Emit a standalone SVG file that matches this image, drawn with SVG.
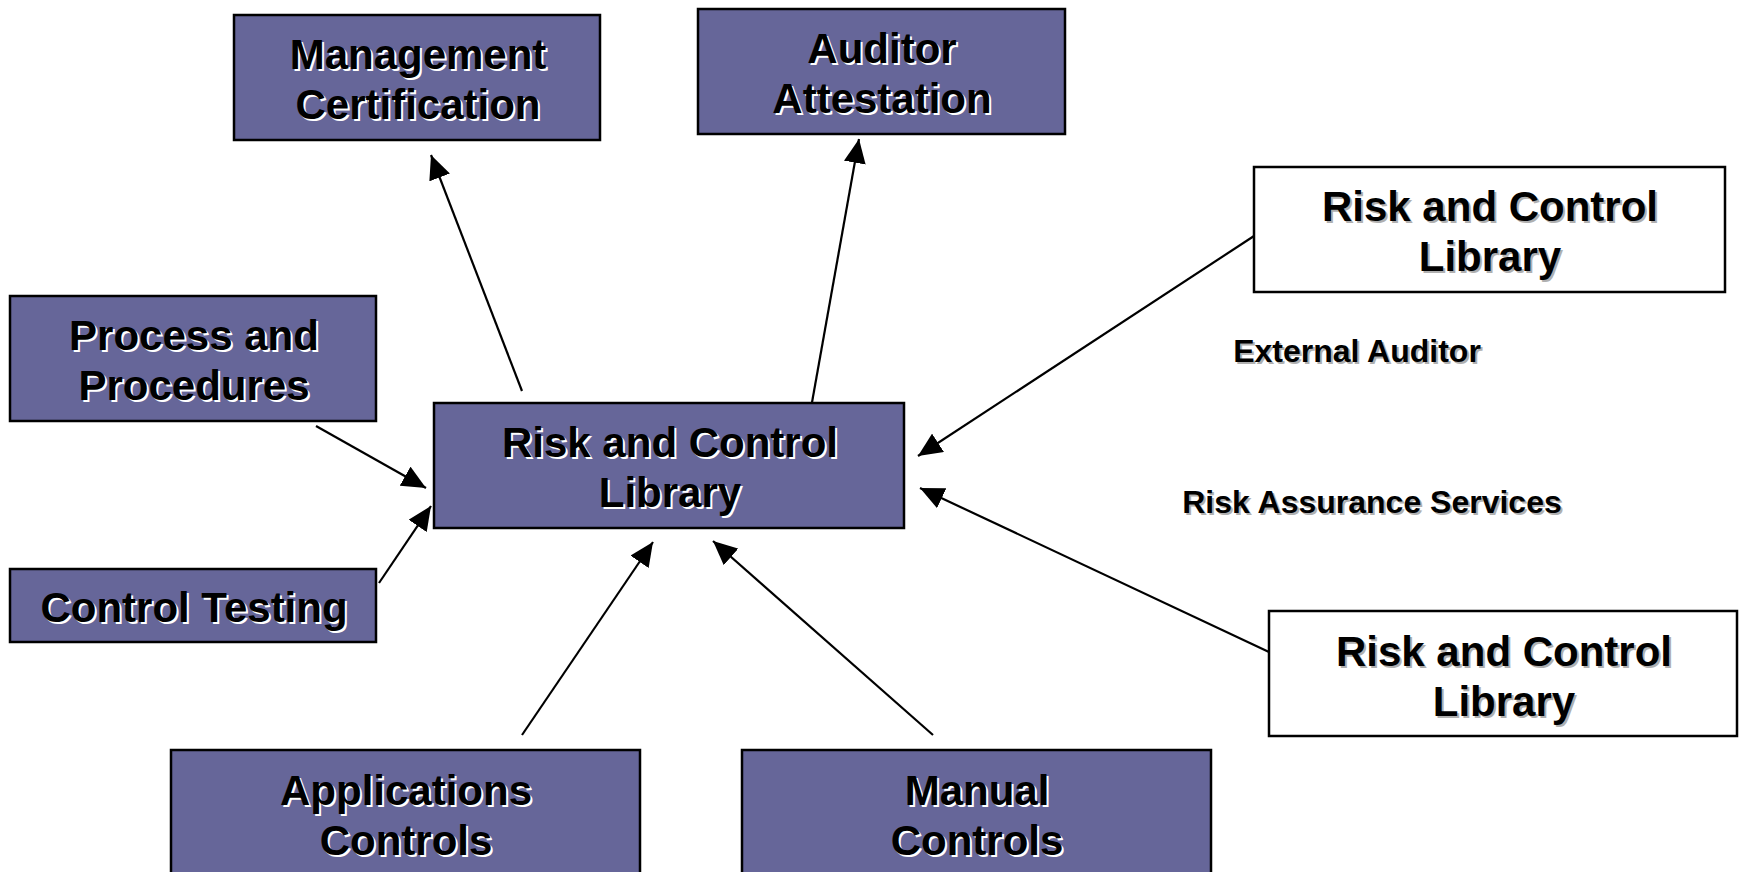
<svg xmlns="http://www.w3.org/2000/svg" width="1739" height="872" viewBox="0 0 1739 872">
<defs>
<style>
.box{fill:#666699;stroke:#000;stroke-width:2.5}
.wbox{fill:#fff;stroke:#000;stroke-width:2.5}
.t{font-family:"Liberation Sans",Arial,sans-serif;font-weight:bold;font-size:42px;text-anchor:middle}
.lab{font-family:"Liberation Sans",Arial,sans-serif;font-weight:bold;font-size:32px;text-anchor:middle}
.sh{fill:#fff}
.gsh{fill:#b0b0b0}
.fg{fill:#000}
.conn line{stroke:#000;stroke-width:2.2;marker-end:url(#ah)}
</style>
<marker id="ah" markerUnits="userSpaceOnUse" markerWidth="26" markerHeight="22" refX="24" refY="11" orient="auto">
<path d="M0,0 L24,11 L0,22 Z" fill="#000"/>
</marker>
</defs>
<rect width="1739" height="872" fill="#fff"/>
<g id="connectors" class="conn">
<line x1="522" y1="391" x2="431" y2="155"/>
<line x1="811" y1="408" x2="859" y2="139"/>
<line x1="316" y1="426" x2="426" y2="488"/>
<line x1="379" y1="583" x2="431" y2="506"/>
<line x1="522" y1="735" x2="653" y2="542"/>
<line x1="933" y1="735" x2="713" y2="541"/>
<line x1="1254" y1="236" x2="918" y2="456"/>
<line x1="1269" y1="652" x2="920" y2="488"/>
</g>
<g id="mgmt">
<rect class="box" x="234" y="15" width="366" height="125"/>
<text class="t sh" x="420" y="71">Management</text><text class="t fg" x="418" y="69">Management</text>
<text class="t sh" x="420" y="121">Certification</text><text class="t fg" x="418" y="119">Certification</text>
</g>
<g id="auditor">
<rect class="box" x="698" y="9" width="367" height="125"/>
<text class="t sh" x="884" y="65">Auditor</text><text class="t fg" x="882" y="63">Auditor</text>
<text class="t sh" x="884" y="115">Attestation</text><text class="t fg" x="882" y="113">Attestation</text>
</g>
<g id="process">
<rect class="box" x="10" y="296" width="366" height="125"/>
<text class="t sh" x="196" y="352">Process and</text><text class="t fg" x="194" y="350">Process and</text>
<text class="t sh" x="196" y="402">Procedures</text><text class="t fg" x="194" y="400">Procedures</text>
</g>
<g id="center">
<rect class="box" x="434" y="403" width="470" height="125"/>
<text class="t sh" x="672" y="459">Risk and Control</text><text class="t fg" x="670" y="457">Risk and Control</text>
<text class="t sh" x="672" y="509">Library</text><text class="t fg" x="670" y="507">Library</text>
</g>
<g id="testing">
<rect class="box" x="10" y="569" width="366" height="73"/>
<text class="t sh" x="196" y="624">Control Testing</text><text class="t fg" x="194" y="622">Control Testing</text>
</g>
<g id="apps">
<rect class="box" x="171" y="750" width="469" height="130"/>
<text class="t sh" x="408" y="807">Applications</text><text class="t fg" x="406" y="805">Applications</text>
<text class="t sh" x="408" y="857">Controls</text><text class="t fg" x="406" y="855">Controls</text>
</g>
<g id="manual">
<rect class="box" x="742" y="750" width="469" height="130"/>
<text class="t sh" x="979" y="807">Manual</text><text class="t fg" x="977" y="805">Manual</text>
<text class="t sh" x="979" y="857">Controls</text><text class="t fg" x="977" y="855">Controls</text>
</g>
<g id="rcl-top">
<rect class="wbox" x="1254" y="167" width="471" height="125"/>
<text class="t gsh" x="1492" y="223">Risk and Control</text><text class="t fg" x="1490" y="221">Risk and Control</text>
<text class="t gsh" x="1492" y="273">Library</text><text class="t fg" x="1490" y="271">Library</text>
</g>
<g id="rcl-bottom">
<rect class="wbox" x="1269" y="611" width="468" height="125"/>
<text class="t gsh" x="1506" y="668">Risk and Control</text><text class="t fg" x="1504" y="666">Risk and Control</text>
<text class="t gsh" x="1506" y="718">Library</text><text class="t fg" x="1504" y="716">Library</text>
</g>
<g id="labels">
<text class="lab gsh" x="1359" y="364">External Auditor</text><text class="lab fg" x="1357" y="362">External Auditor</text>
<text class="lab gsh" x="1374" y="515">Risk Assurance Services</text><text class="lab fg" x="1372" y="513">Risk Assurance Services</text>
</g>
</svg>
